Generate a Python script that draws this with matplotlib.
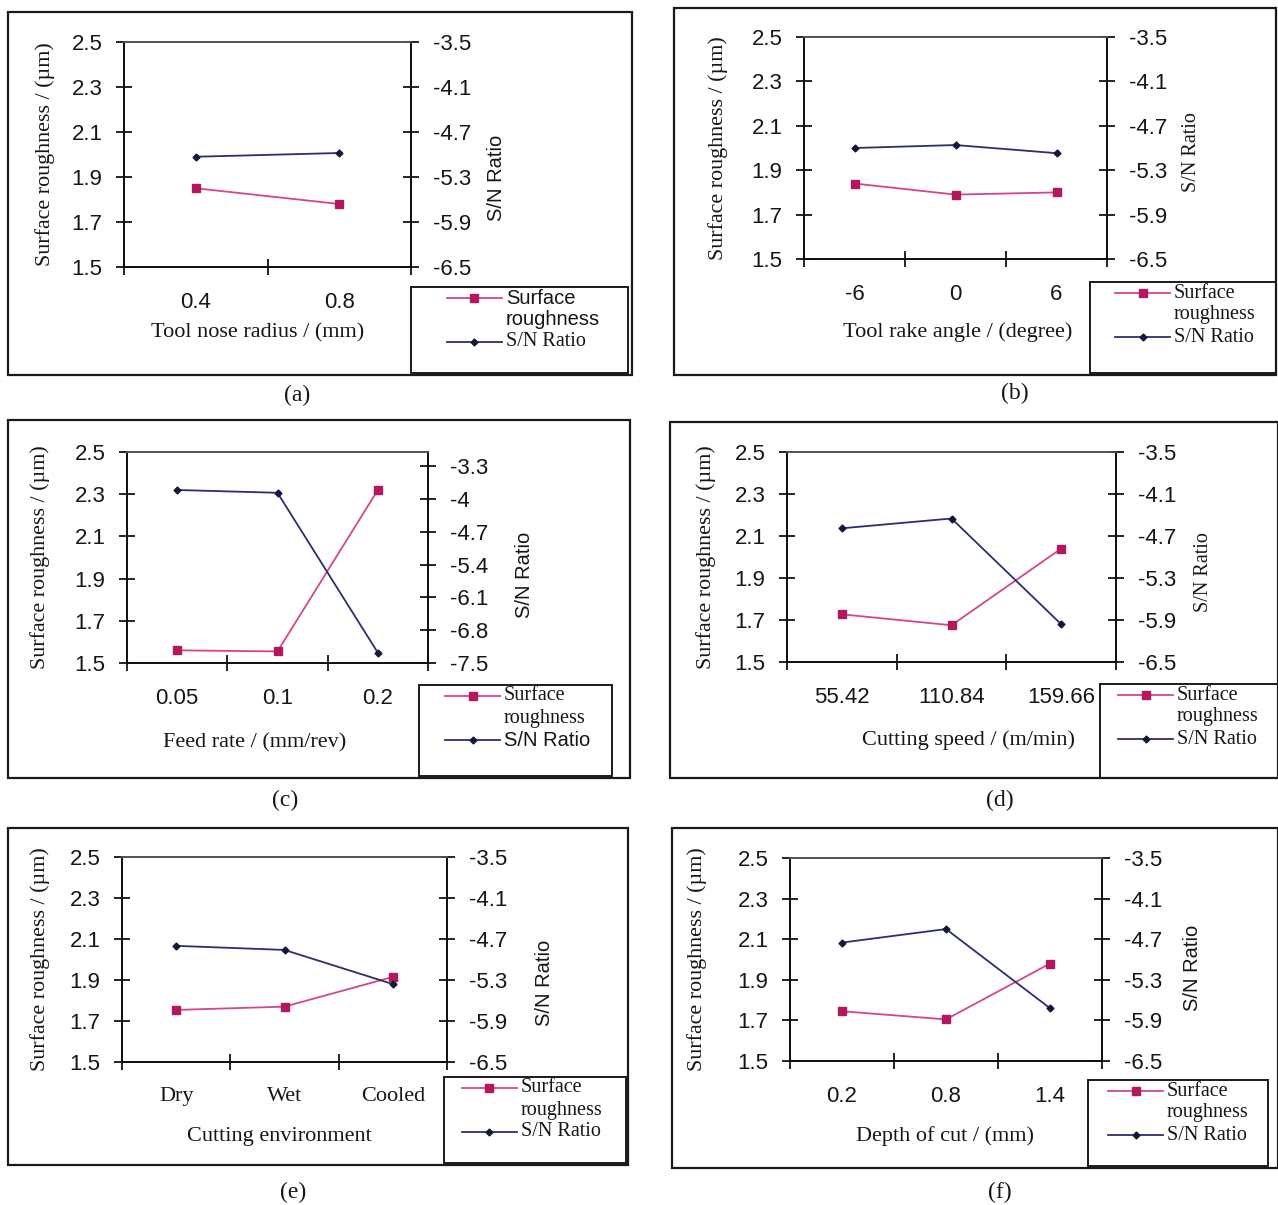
import matplotlib
matplotlib.use('Agg')
import matplotlib.pyplot as plt
from matplotlib.patches import Rectangle
from matplotlib.lines import Line2D

W, H = 1278, 1205

# values
nose_radius = ['0.4', '0.8']
nose_sr = [1.85, 1.78]
nose_sn = [-5.03, -4.98]

rake_angle = ['-6', '0', '6']
rake_sr = [1.84, 1.79, 1.80]
rake_sn = [-5.00, -4.96, -5.07]

feed_rate = ['0.05', '0.1', '0.2']
feed_sr = [1.56, 1.555, 2.32]
feed_sn = [-3.81, -3.87, -7.28]

cut_speed = ['55.42', '110.84', '159.66']
speed_sr = [1.727, 1.675, 2.04]
speed_sn = [-4.59, -4.45, -5.96]

environment = ['Dry', 'Wet', 'Cooled']
env_sr = [1.754, 1.77, 1.915]
env_sn = [-4.80, -4.86, -5.36]

depth_cut = ['0.2', '0.8', '1.4']
depth_sr = [1.745, 1.705, 1.98]
depth_sn = [-4.75, -4.55, -5.72]

sr_ticks = [1.5, 1.7, 1.9, 2.1, 2.3, 2.5]
sn_ticks = [-6.5, -5.9, -5.3, -4.7, -4.1, -3.5]
sn_labels = ['-6.5', '-5.9', '-5.3', '-4.7', '-4.1', '-3.5']
sn_ticks_c = [-7.5, -6.8, -6.1, -5.4, -4.7, -4.0, -3.3]
sn_labels_c = ['-7.5', '-6.8', '-6.1', '-5.4', '-4.7', '-4', '-3.3']

PINK = '#d4468c'
PINK_M = '#b3185f'
NAVY = '#2a2f6e'
NAVY_M = '#15173a'
TXT = '#161616'
SANS = 'Liberation Sans'
SERIF = 'Liberation Serif'


def fx(x):
    return x / W


def fy(y):
    return 1 - y / H


def panel(fig, p):
    bx0, by0, bx1, by1 = p['box']
    fig.add_artist(Rectangle((fx(bx0), fy(by1)), (bx1 - bx0) / W, (by1 - by0) / H,
                             transform=fig.transFigure, fill=False, ec='#1a1a1a', lw=1.6))
    ax0, ay0, ax1, ay1 = p['axes']
    ax = fig.add_axes([fx(ax0), fy(ay1), (ax1 - ax0) / W, (ay1 - ay0) / H])
    n = len(p['cats'])
    xs = list(range(n))
    ax.plot(xs, p['sr'], color=PINK, lw=1.3, marker='s', ms=5.5, mfc=PINK_M, mec=PINK_M, zorder=3)
    ax.set_xlim(-0.5, n - 0.5)
    ax.set_ylim(1.5, 2.5)
    ax.set_yticks(sr_ticks)
    ax.set_yticklabels(['%.1f' % t for t in sr_ticks], fontfamily=SANS, fontsize=16, color=TXT)
    ax.set_xticks(xs)
    ax.set_xticklabels(p['cats'], fontfamily=p.get('xfont', SANS), fontsize=16, color=TXT)
    ax.set_xticks([k - 0.5 for k in range(n + 1)], minor=True)
    ax.tick_params(axis='x', which='major', length=0, pad=18)
    ax.tick_params(axis='x', which='minor', direction='inout', length=11, width=1.2)
    ax.tick_params(axis='y', direction='inout', length=11, width=1.2, pad=10)
    for s in ax.spines.values():
        s.set_linewidth(1.3)
        s.set_color('#111111')
    ax.spines['top'].set_color('#555555')

    ax2 = ax.twinx()
    ax2.plot(xs, p['sn'], color=NAVY, lw=1.3, marker='D', ms=3.5, mfc=NAVY_M, mec=NAVY_M, zorder=3)
    ax2.set_ylim(*p['sn_lim'])
    ax2.set_yticks(p['sn_ticks'])
    ax2.set_yticklabels(p['sn_labels'], fontfamily=SANS, fontsize=16, color=TXT)
    ax2.tick_params(axis='y', direction='inout', length=11, width=1.2, pad=10)
    for s in ax2.spines.values():
        s.set_linewidth(1.3)
        s.set_color('#111111')
    ax2.spines['top'].set_color('#555555')

    fig.text(fx(p['ylab_x']), fy((ay0 + ay1) / 2), 'Surface roughness / (\u00b5m)', rotation=90,
             ha='center', va='center', fontfamily=SERIF, fontsize=15.8, color=TXT)
    fig.text(fx(p['rlab_x']), fy(p['rlab_y']), 'S/N Ratio', rotation=90,
             ha='center', va='center', fontfamily=p.get('rfont', SERIF), fontsize=14.5, color=TXT)
    fig.text(fx(p['xlab'][0]), fy(p['xlab'][1]), p['xlabel'], ha='center', va='center',
             fontfamily=SERIF, fontsize=16, color=TXT)
    fig.text(fx(p['cap'][0]), fy(p['cap'][1]), p['caption'], ha='center', va='center',
             fontfamily=SERIF, fontsize=17, color=TXT)

    # legend box
    lx0, ly0, lx1, ly1 = p['legend']
    fig.add_artist(Rectangle((fx(lx0), fy(ly1)), (lx1 - lx0) / W, (ly1 - ly0) / H,
                             transform=fig.transFigure, fill=False, ec='#1a1a1a', lw=1.4))
    hx0 = lx0 + p['hoff']
    hx1 = hx0 + 55
    r1, r2, r3 = ly0 + 11, ly0 + 33, ly0 + 55
    fig.add_artist(Line2D([fx(hx0), fx(hx1)], [fy(r1), fy(r1)], transform=fig.transFigure,
                          color=PINK, lw=1.3))
    fig.add_artist(Line2D([fx((hx0 + hx1) / 2)], [fy(r1)], transform=fig.transFigure,
                          marker='s', ms=5.5, mfc=PINK_M, mec=PINK_M, lw=0))
    fig.add_artist(Line2D([fx(hx0), fx(hx1)], [fy(r3), fy(r3)], transform=fig.transFigure,
                          color=NAVY, lw=1.3))
    fig.add_artist(Line2D([fx((hx0 + hx1) / 2)], [fy(r3)], transform=fig.transFigure,
                          marker='D', ms=3.5, mfc=NAVY_M, mec=NAVY_M, lw=0))
    f1 = p.get('lfont1', SERIF)
    f2 = p.get('lfont2', SERIF)
    fig.text(fx(hx1 + 4), fy(r1), 'Surface', ha='left', va='center', fontfamily=f1, fontsize=14.5, color=TXT)
    fig.text(fx(hx1 + 4), fy(r2), 'roughness', ha='left', va='center', fontfamily=f1, fontsize=14.5, color=TXT)
    fig.text(fx(hx1 + 4), fy(r3), 'S/N Ratio', ha='left', va='center', fontfamily=f2, fontsize=14.5, color=TXT)


panels = [
    dict(box=(8, 12, 632, 375), axes=(124, 42, 411, 267), legend=(411, 287, 628, 373), hoff=36,
         cats=nose_radius, sr=nose_sr, sn=nose_sn, sn_lim=(-6.5, -3.5), sn_ticks=sn_ticks,
         sn_labels=sn_labels, xlabel='Tool nose radius / (mm)', ylab_x=45, rlab_x=497,
         rlab_y=178, rfont=SANS, xlab=(258, 333), cap=(297, 395), caption='(a)',
         lfont1=SANS, lfont2=SERIF),
    dict(box=(674, 8, 1276, 375), axes=(804, 37, 1107, 259), legend=(1090, 282, 1276, 373), hoff=25,
         cats=rake_angle, sr=rake_sr, sn=rake_sn, sn_lim=(-6.5, -3.5), sn_ticks=sn_ticks,
         sn_labels=sn_labels, xlabel='Tool rake angle / (degree)', ylab_x=718, rlab_x=1192,
         rlab_y=152, xlab=(958, 332), cap=(1015, 393), caption='(b)'),
    dict(box=(8, 420, 630, 778), axes=(127, 452, 428, 663), legend=(419, 685, 612, 776), hoff=26,
         cats=feed_rate, sr=feed_sr, sn=feed_sn, sn_lim=(-7.5, -3.0), sn_ticks=sn_ticks_c,
         sn_labels=sn_labels_c, xlabel='Feed rate / (mm/rev)', ylab_x=40, rlab_x=525,
         rlab_y=575, rfont=SANS, xlab=(255, 743), cap=(285, 800), caption='(c)',
         lfont1=SERIF, lfont2=SANS),
    dict(box=(670, 422, 1278, 778), axes=(787, 452, 1116, 662), legend=(1100, 684, 1278, 778), hoff=18,
         cats=cut_speed, sr=speed_sr, sn=speed_sn, sn_lim=(-6.5, -3.5), sn_ticks=sn_ticks,
         sn_labels=sn_labels, xlabel='Cutting speed / (m/min)', ylab_x=706, rlab_x=1203,
         rlab_y=572, xlab=(968, 740), cap=(1000, 800), caption='(d)'),
    dict(box=(8, 828, 628, 1165), axes=(122, 857, 447, 1062), legend=(444, 1077, 626, 1163), hoff=18,
         cats=environment, sr=env_sr, sn=env_sn, sn_lim=(-6.5, -3.5), sn_ticks=sn_ticks,
         sn_labels=sn_labels, xlabel='Cutting environment', xfont=SERIF, ylab_x=40,
         rlab_x=545, rlab_y=983, rfont=SANS, xlab=(279, 1137), cap=(293, 1192), caption='(e)'),
    dict(box=(672, 828, 1278, 1168), axes=(790, 858, 1102, 1061), legend=(1088, 1080, 1268, 1166), hoff=20,
         cats=depth_cut, sr=depth_sr, sn=depth_sn, sn_lim=(-6.5, -3.5), sn_ticks=sn_ticks,
         sn_labels=sn_labels, xlabel='Depth of cut / (mm)', ylab_x=697, rlab_x=1193,
         rlab_y=968, rfont=SANS, xlab=(945, 1136), cap=(1000, 1192), caption='(f)'),
]

fig = plt.figure(figsize=(W / 100, H / 100), dpi=100)
fig.patch.set_facecolor('white')
for p in panels:
    panel(fig, p)

fig.savefig('out.png', dpi=100, facecolor='white')
